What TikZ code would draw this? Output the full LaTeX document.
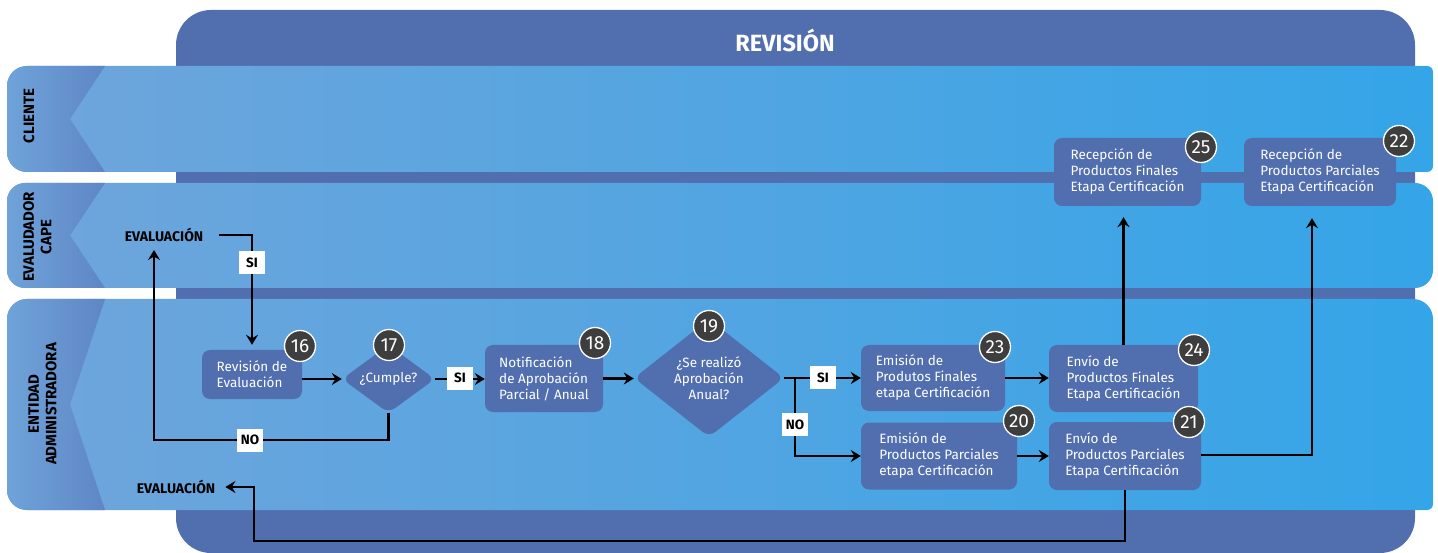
\documentclass[tikz,border=0pt]{standalone}
\usepackage{fontspec}
\setmainfont{Fira Sans}
\usetikzlibrary{shapes.geometric,arrows.meta}
\definecolor{revblue}{RGB}{81,110,175}
\definecolor{laneleft}{RGB}{112,165,219}
\definecolor{laneright}{RGB}{52,165,232}
\definecolor{tabdark}{RGB}{95,134,197}
\definecolor{badgegray}{RGB}{62,62,62}
\tikzset{
  box/.style={fill=revblue, rounded corners=8pt, text=white, align=left, inner sep=0pt,
    font=\fontsize{13.5}{16}\selectfont},
  decision/.style={diamond, fill=revblue, rounded corners=8pt, text=white, align=center, inner sep=0pt,
    font=\fontsize{13.5}{16}\selectfont},
  badge/.style={circle, fill=badgegray, draw=white, line width=1.3pt, text=white, minimum size=31pt,
    inner sep=0pt, font=\fontsize{19}{19}\selectfont},
  flow/.style={line width=2.3pt, -{Stealth[length=10pt,width=12pt,inset=3.5pt]}},
  tag/.style={fill=white, minimum width=26pt, minimum height=23pt, inner sep=0pt,
    font=\bfseries\fontsize{13.5}{13.5}\selectfont},
  lanename/.style={rotate=90, align=center, font=\bfseries\fontsize{15}{17.5}\selectfont},
  outlabel/.style={inner sep=2pt, font=\bfseries\fontsize{14}{14}\selectfont}
}
\begin{document}
\begin{tikzpicture}[x=1pt,y=-1pt]
 \useasboundingbox (0,0) rectangle (1438,553);
 % frame
 \fill[revblue, rounded corners=35pt] (176,10) rectangle (1415,553);
 \node[text=white, font=\bfseries\fontsize{23.5}{23.5}\selectfont] (title) at (785,40) {REVISIÓN};
 % lanes
 \begin{scope}
  \clip[rounded corners=20pt] (7,66) rectangle (1500,172);
  \clip[rounded corners=6pt] (-20,66) rectangle (1433,172);
  \shade[left color=laneleft, right color=laneright] (0,66) rectangle (1433,172);
  \shade[left color=laneleft, right color=tabdark] (0,66) -- (105,66) -- (70,119) -- (105,172) -- (0,172) -- cycle;
 \end{scope}
 \begin{scope}
  \clip[rounded corners=18pt] (7,183) rectangle (1433,288);
  \shade[left color=laneleft, right color=laneright] (0,183) rectangle (1433,288);
  \shade[left color=laneleft, right color=tabdark] (0,183) -- (105,183) -- (70,235.5) -- (105,288) -- (0,288) -- cycle;
 \end{scope}
 \begin{scope}
  \clip[rounded corners=20pt] (7,299) rectangle (1500,510);
  \clip[rounded corners=6pt] (-20,250) rectangle (1433,510);
  \clip[rounded corners=20pt] (-20,299) rectangle (1433,560);
  \shade[left color=laneleft, right color=laneright] (0,299) rectangle (1433,510);
  \shade[left color=laneleft, right color=tabdark] (0,299) -- (105,299) -- (70,404.5) -- (105,510) -- (0,510) -- cycle;
 \end{scope}
 \node[lanename] (cliente) at (29,116) {CLIENTE};
 \node[lanename] (evaluador) at (37.5,237) {EVALUDADOR\\CAPE};
 \node[lanename] (entidad) at (42.5,404) {ENTIDAD\\ADMINISTRADORA};

 % steps
 \node[outlabel] (ev1) at (164,235) {EVALUACIÓN};
 \node[outlabel] (ev2) at (176,487) {EVALUACIÓN};
 \node[box, minimum width=100pt, minimum height=49pt] (n16) at (252,374.5) {Revisión de\\Evaluación};
 \node[decision, aspect=1.37, minimum width=93pt, minimum height=68pt] (d17) at (388.5,379) {¿Cumple?};
 \node[box, minimum width=118pt, minimum height=67pt] (n18) at (544,378.5) {Notificación\\de Aprobación\\Parcial / Anual};
 \node[decision, aspect=1.27, minimum width=150pt, minimum height=118pt] (d19) at (709,378) {¿Se realizó\\Aprobación\\Anual?};
 \node[box, minimum width=144pt, minimum height=66pt] (n23) at (933,378) {Emisión de\\Produtos Finales\\etapa Certificación};
 \node[box, minimum width=156pt, minimum height=67pt] (n20) at (939,456) {Emisión de\\Productos Parciales\\etapa Certificación};
 \node[box, minimum width=149pt, minimum height=67pt] (n24) at (1123.5,378.5) {Envío de\\Productos Finales\\Etapa Certificación};
 \node[box, minimum width=152pt, minimum height=68pt] (n21) at (1125,456) {Envío de\\Productos Parciales\\Etapa Certificación};
 \node[box, minimum width=147pt, minimum height=68pt] (n25) at (1127.5,172) {Recepción de\\Productos Finales\\Etapa Certificación};
 \node[box, minimum width=152pt, minimum height=68pt] (n22) at (1320,172) {Recepción de\\Productos Parciales\\Etapa Certificación};

 % numbers
 \node[badge] (b16) at (300,346) {16};
 \node[badge] (b17) at (389,345) {17};
 \node[badge] (b18) at (595,343) {18};
 \node[badge] (b19) at (709,326) {19};
 \node[badge] (b23) at (995,347) {23};
 \node[badge] (b20) at (1019,421) {20};
 \node[badge] (b24) at (1194,350) {24};
 \node[badge] (b21) at (1189,422) {21};
 \node[badge] (b25) at (1201,147) {25};
 \node[badge] (b22) at (1399,141) {22};

 % connectors
 \coordinate (ret1) at (154,440);
 \coordinate (split) at (795,378);
 \coordinate (up22) at (1312,455);
 \coordinate (low) at (254,541);
 \draw[flow, shorten >=5pt] ([xshift=14pt]ev1.east) -| (n16.north);
 \draw[flow] (n16.east |- d17.west) -- (d17.west);
 \draw[flow] (d17.east) -- (d17.east -| n18.west);
 \draw[flow, shorten >=6pt] (d17.south) |- (ret1) -- (ret1 |- ev1.south);
 \draw[flow] (n18.east) -- (n18.east -| d19.west);
 \draw[flow] (d19.east) -- (n23.west);
 \draw[flow] (split) |- (n20.west);
 \draw[flow] (n23.east) -- (n23.east -| n24.west);
 \draw[flow] (n20.east) -- (n20.east -| n21.west);
 \draw[flow, shorten >=11pt] (n24.north) -- (n24.north |- n25.south);
 \draw[flow, shorten >=12pt] (n21.east |- up22) -| (up22 |- n22.south);
 \draw[flow, shorten >=8pt] (n21.south) |- (low) |- (ev2.east);
 \node[tag] (si1) at (252,263) {SI};
 \node[tag] (no1) at (250,440) {NO};
 \node[tag] (si2) at (460,378) {SI};
 \node[tag] (si3) at (823,377.5) {SI};
 \node[tag] (no2) at (795,424.5) {NO};
\end{tikzpicture}
\end{document}
